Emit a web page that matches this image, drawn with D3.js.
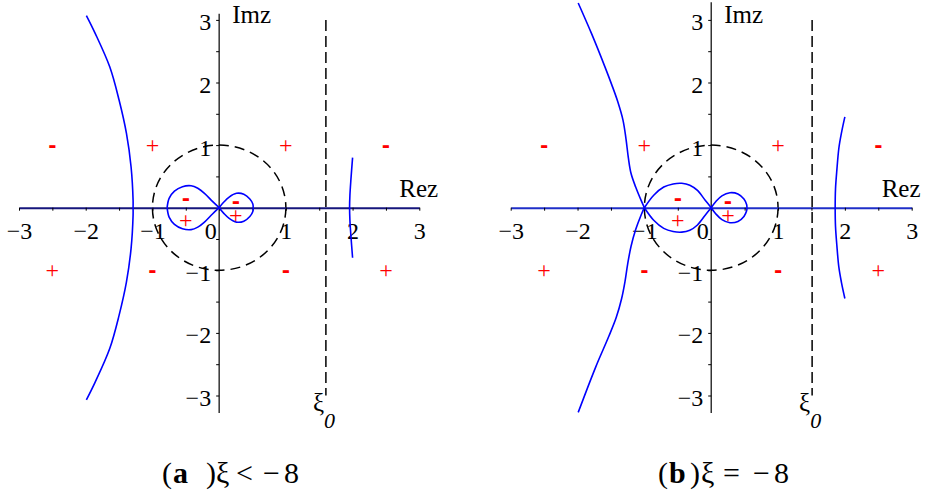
<!DOCTYPE html>
<html>
<head>
<meta charset="utf-8">
<script src="https://cdn.jsdelivr.net/npm/d3@7"></script>
<style>
  body { margin: 0; background: #fff; }
  svg { display: block; font-family: "Liberation Serif", "DejaVu Serif", serif; }
</style>
</head>
<body>
<div id="chart"></div>
<script>
// Level curves of the two cases (x = Re z, y = Im z)
const xTickValues = [-3, -2.5, -2, -1.5, -1, -0.5, 0, 0.5, 1, 1.5, 2, 2.5, 3];
const yTickValues = [-3, -2.5, -2, -1.5, -1, -0.5, 0.5, 1, 1.5, 2, 2.5, 3];

// panel (a): xi < -8
const outerLeftA = [[-1.99, 3.07], [-1.86, 2.79], [-1.64, 2.25], [-1.5, 1.72], [-1.39, 1.19], [-1.32, 0.65], [-1.29, 0.12], [-1.29, 0],
  [-1.29, -0.12], [-1.32, -0.65], [-1.39, -1.19], [-1.5, -1.72], [-1.64, -2.25], [-1.86, -2.79], [-1.99, -3.07]];
const lobeLeftUpA = [[0, 0], [-0.1, 0.1], [-0.22, 0.23], [-0.32, 0.31], [-0.42, 0.35], [-0.55, 0.335], [-0.67, 0.265], [-0.75, 0.15], [-0.78, 0]];
const lobeLeftDownA = [[0, 0], [-0.1, -0.1], [-0.22, -0.23], [-0.32, -0.31], [-0.42, -0.35], [-0.55, -0.335], [-0.67, -0.265], [-0.75, -0.15], [-0.78, 0]];
const lobeRightUpA = [[0, 0], [0.07, 0.09], [0.15, 0.17], [0.26, 0.23], [0.37, 0.215], [0.46, 0.14], [0.505, 0.06], [0.51, 0]];
const lobeRightDownA = [[0, 0], [0.07, -0.09], [0.15, -0.17], [0.26, -0.23], [0.37, -0.215], [0.46, -0.14], [0.505, -0.06], [0.51, 0]];
const branchRightA = [[2.0, 0.8], [1.975, 0.45], [1.96, 0.2], [1.955, 0], [1.96, -0.2], [1.975, -0.45], [2.0, -0.8]];

// panel (b): xi = -8
const outerUpB = [[-1.99, 3.27], [-1.79, 2.78], [-1.59, 2.25], [-1.49, 1.97], [-1.4, 1.7], [-1.32, 1.4], [-1.275, 1.1],
  [-1.24, 0.8], [-1.2, 0.55], [-1.13, 0.33], [-1.05, 0.12], [-1, 0]];
const outerDownB = [[-1, 0], [-1.05, -0.12], [-1.13, -0.35], [-1.2, -0.62], [-1.25, -0.9], [-1.29, -1.18], [-1.34, -1.45],
  [-1.42, -1.75], [-1.53, -2.05], [-1.73, -2.55], [-1.99, -3.27]];
const lobeLeftUpB = [[0, 0], [-0.09, 0.12], [-0.21, 0.28], [-0.32, 0.36], [-0.44, 0.39], [-0.57, 0.38], [-0.71, 0.33], [-0.86, 0.2], [-1, 0]];
const lobeLeftDownB = [[0, 0], [-0.09, -0.12], [-0.21, -0.28], [-0.32, -0.36], [-0.44, -0.39], [-0.57, -0.38], [-0.71, -0.33], [-0.86, -0.2], [-1, 0]];
const lobeRightUpB = [[0, 0], [0.07, 0.1], [0.16, 0.19], [0.28, 0.24], [0.4, 0.22], [0.49, 0.14], [0.53, 0.05], [0.535, 0]];
const lobeRightDownB = [[0, 0], [0.07, -0.1], [0.16, -0.19], [0.28, -0.24], [0.4, -0.22], [0.49, -0.14], [0.53, -0.05], [0.535, 0]];
const branchRightB = [[2.0, 1.45], [1.95, 1.2], [1.91, 0.95], [1.88, 0.6], [1.86, 0.3], [1.855, 0],
  [1.86, -0.3], [1.88, -0.6], [1.91, -0.95], [1.95, -1.2], [2.0, -1.45]];

// sign regions
const signPos = [[-2.5, 1], [-1, 1], [1, 1], [2.5, 1], [-0.5, 0.15], [-0.5, -0.19], [0.25, 0.11], [0.25, -0.12],
  [-2.5, -1], [-1, -1], [1, -1], [2.5, -1]];
const signType = ['-', '+', '+', '-', '-', '+', '-', '+', '+', '-', '-', '+'];

const xiLineA = 1.6;
const xiLineB = 1.51;

// caption pieces: text, bold?, offset from left edge of caption
const captionA = [['(', false, 0], ['a', true, 11], [')', false, 44], ['ξ', false, 54], ['<', false, 74], ['−', false, 101], ['8', false, 122]];
const captionB = [['(', false, 0], ['b', true, 11], [')', false, 32], ['ξ', false, 43], ['=', false, 65], ['−', false, 95], ['8', false, 116]];

const W = 930, H = 490;
const svg = d3.select('#chart').append('svg').attr('width', W).attr('height', H);

function drawPanel(cfg) {
  const x = d3.scaleLinear().domain([-3, 3]).range(cfg.xRange);
  const y = d3.scaleLinear().domain([3, -3]).range([19.9, 395.5]);
  const g = svg.append('g');

  // unit circle (dashed)
  g.append('ellipse')
    .attr('cx', x(0)).attr('cy', y(0))
    .attr('rx', x(1) - x(0)).attr('ry', y(0) - y(1))
    .attr('fill', 'none').attr('stroke', '#000')
    .attr('stroke-width', 1.5).attr('stroke-dasharray', '10,6');

  // xi_0 line
  g.append('line')
    .attr('x1', x(cfg.xi)).attr('x2', x(cfg.xi))
    .attr('y1', y(3)).attr('y2', y(-3))
    .attr('stroke', '#000').attr('stroke-width', 1.5).attr('stroke-dasharray', '11,5');

  // y axis
  g.append('line')
    .attr('x1', x(0)).attr('x2', x(0))
    .attr('y1', y(cfg.yTop)).attr('y2', y(-3.28))
    .attr('stroke', '#000').attr('stroke-width', 1.2);

  const yAxis = g.append('g')
    .attr('transform', `translate(${x(0)},0)`)
    .call(d3.axisLeft(y).tickValues(yTickValues).tickSize(3).tickPadding(5)
      .tickFormat(d => Number.isInteger(d) ? d3.format('d')(d) : ''));
  yAxis.attr('font-family', null).attr('font-size', null);
  yAxis.select('.domain').remove();
  yAxis.selectAll('.tick line').attr('stroke', '#000');
  yAxis.selectAll('text').attr('font-size', 24).attr('dy', '0.42em').attr('fill', '#000');

  // x axis
  const xAxis = g.append('g')
    .attr('transform', `translate(0,${y(0)})`)
    .call(d3.axisBottom(x).tickValues(xTickValues).tickSize(3).tickSizeOuter(0).tickPadding(11)
      .tickFormat(d => Number.isInteger(d) ? d3.format('d')(d) : ''));
  xAxis.attr('font-family', null).attr('font-size', null);
  xAxis.select('.domain').attr('stroke', cfg.xAxisColor).attr('stroke-width', 2);
  xAxis.selectAll('.tick line').attr('stroke', '#000');
  xAxis.selectAll('text').attr('font-size', 24).attr('fill', '#000')
    .attr('x', d => d === 0 ? -9 : 0);

  g.append('text').attr('x', x(0) + 13).attr('y', 23)
    .attr('font-size', 25).text('Imz');
  g.append('text').attr('x', x(3) + cfg.rezOffset).attr('y', 197)
    .attr('font-size', 25).text('Rez');

  // xi_0 label
  const lab = g.append('text').attr('x', x(cfg.xi) - 13).attr('y', 411).attr('font-size', 25);
  lab.append('tspan').text('ξ');
  lab.append('tspan').attr('dy', 17).attr('font-size', 22).attr('font-style', 'italic').text('0');

  // level curves
  const line = d3.line().x(d => x(d[0])).y(d => y(d[1])).curve(d3.curveCatmullRom.alpha(0.5));
  cfg.curves.forEach(c => {
    g.append('path').datum(c).attr('d', line)
      .attr('fill', 'none').attr('stroke', '#0000ff').attr('stroke-width', 1.6);
  });

  // sign marks
  signPos.forEach((p, i) => {
    const plus = signType[i] === '+';
    g.append('text')
      .attr('x', x(p[0])).attr('y', y(p[1]))
      .attr('text-anchor', 'middle')
      .attr('dominant-baseline', 'central')
      .attr('font-family', plus ? '"Liberation Serif", serif' : '"DejaVu Sans", sans-serif')
      .attr('font-weight', plus ? 'normal' : 'bold')
      .attr('font-size', plus ? 24 : 20)
      .attr('fill', '#ff0000')
      .text(signType[i]);
  });

  // caption
  const cap = svg.append('text').attr('y', 483).attr('font-size', 30);
  cfg.caption.forEach(c => {
    cap.append('tspan').attr('x', cfg.capLeft + c[2])
      .attr('font-weight', c[1] ? 'bold' : 'normal').text(c[0]);
  });
}

drawPanel({
  xRange: [19, 419.3], xi: xiLineA, yTop: 3.1, xAxisColor: '#16167c', rezOffset: -20,
  curves: [outerLeftA, lobeLeftUpA, lobeLeftDownA, lobeRightUpA, lobeRightDownA, branchRightA],
  capLeft: 162, caption: captionA
});
drawPanel({
  xRange: [510.7, 911.7], xi: xiLineB, yTop: 3.28, xAxisColor: '#1f2fc8', rezOffset: -30,
  curves: [outerUpB, outerDownB, lobeLeftUpB, lobeLeftDownB, lobeRightUpB, lobeRightDownB, branchRightB],
  capLeft: 658, caption: captionB
});
</script>
</body>
</html>
